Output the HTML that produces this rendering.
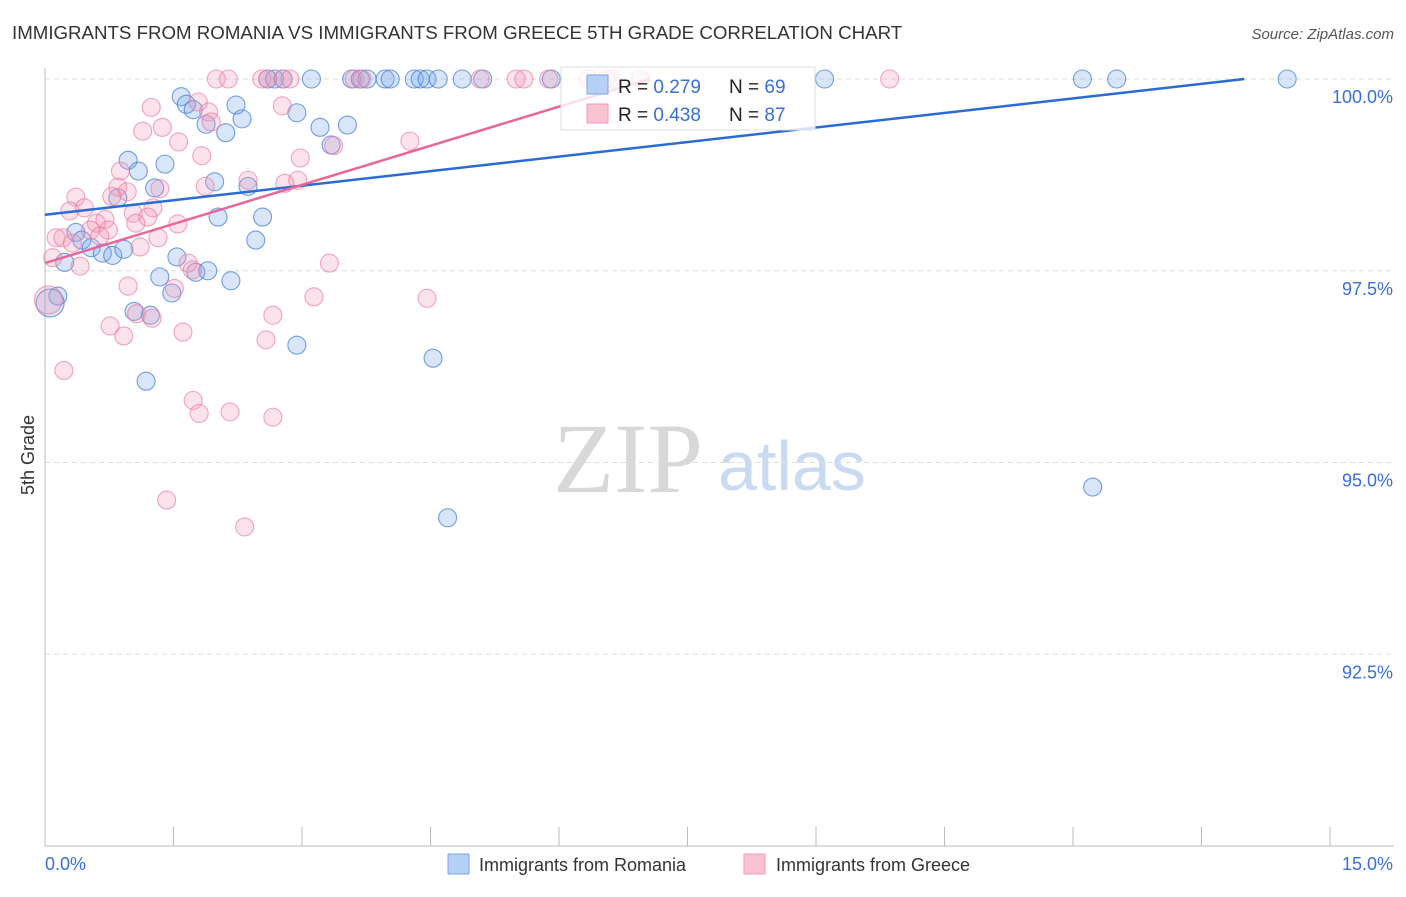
<!DOCTYPE html>
<html><head><meta charset="utf-8"><style>
body{margin:0;background:#fff;font-family:"Liberation Sans",sans-serif}
</style></head><body>
<svg id="chart" width="1406" height="892" xmlns="http://www.w3.org/2000/svg" font-family="Liberation Sans, sans-serif">
<text x="12" y="39" font-size="18.7" fill="#333">IMMIGRANTS FROM ROMANIA VS IMMIGRANTS FROM GREECE 5TH GRADE CORRELATION CHART</text>
<text x="1394" y="39" font-size="15" fill="#555" text-anchor="end" font-style="italic">Source: ZipAtlas.com</text>
<text x="34" y="455" font-size="18" fill="#333" text-anchor="middle" transform="rotate(-90 34 455)">5th Grade</text>
<g>
<text x="553" y="492" font-size="100" fill="#d8d8d8" style="font-family:'Liberation Serif',serif">ZIP</text>
<text x="718" y="490" font-size="70" fill="#c9dbf2">atlas</text>
</g>
<g id="grid"></g><g id="axes"></g><g id="pts"></g><g id="lines"></g>
<g>
<rect x="561" y="67" width="254" height="63" fill="rgba(255,255,255,0.8)" stroke="#ddd"/>
<rect x="587" y="75" width="21" height="19" fill="#b7d0f5" stroke="#7aa5e6"/>
<rect x="587" y="104" width="21" height="19" fill="#f9c3d3" stroke="#f19ab5"/>
<text x="618" y="93" font-size="19" fill="#222">R = <tspan fill="#3a6fd8">0.279</tspan></text>
<text x="729" y="93" font-size="19" fill="#222">N = <tspan fill="#3a6fd8">69</tspan></text>
<text x="618" y="121" font-size="19" fill="#222">R = <tspan fill="#3a6fd8">0.438</tspan></text>
<text x="729" y="121" font-size="19" fill="#222">N = <tspan fill="#3a6fd8">87</tspan></text>
</g>
<g>
<rect x="448" y="854" width="21" height="20" fill="#b7d0f5" stroke="#7aa5e6"/>
<text x="479" y="871" font-size="18" fill="#333">Immigrants from Romania</text>
<rect x="744" y="854" width="21" height="20" fill="#f9c3d3" stroke="#f19ab5"/>
<text x="776" y="871" font-size="18" fill="#333">Immigrants from Greece</text>
</g>
</svg>
<script>
const xTickLabels=["0.0%","15.0%"];
const yTicks=[100,97.5,95,92.5];
const yTickLabels=["100.0%","97.5%","95.0%","92.5%"];
const romaniaX=[2.60,2.68,2.78,3.11,3.58,3.68,3.76,3.97,4.03,4.31,4.38,4.46,4.59,4.87,5.11,5.91,9.10,12.11,12.51,14.50,1.59,1.65,1.73,1.88,2.23,2.30,2.11,2.94,3.21,3.53,3.34,0.97,1.40,1.09,1.28,1.98,2.37,0.85,2.02,2.54,0.36,0.43,0.54,0.67,0.79,0.92,1.54,2.46,0.23,1.34,1.76,1.90,2.17,1.48,0.15,0.06,1.04,1.23,2.94,4.53,1.18,12.23,4.70];
const romaniaY=[100,100,100,100,100,100,100,100,100,100,100,100,100,100,100,100,100,100,100,100,99.77,99.67,99.60,99.41,99.66,99.48,99.30,99.56,99.37,99.40,99.14,98.94,98.89,98.80,98.58,98.66,98.60,98.45,98.20,98.20,98.00,97.90,97.80,97.73,97.70,97.78,97.68,97.90,97.61,97.42,97.48,97.50,97.37,97.21,97.17,97.08,96.97,96.92,96.53,96.36,96.06,94.68,94.28];
const greeceX=[2.00,2.14,2.53,2.60,2.78,2.86,3.61,3.70,5.08,5.50,5.59,5.88,6.34,6.55,6.62,6.95,9.86,1.79,1.24,1.91,1.94,1.37,1.14,1.56,2.77,4.26,1.83,2.98,3.37,0.88,2.37,0.85,0.96,1.34,1.87,2.80,2.95,0.36,0.78,0.29,0.46,1.03,1.26,1.20,0.70,0.60,0.53,1.06,1.55,0.13,0.21,0.32,0.74,0.64,1.11,1.32,0.09,0.41,1.67,1.72,3.32,0.97,1.51,1.07,1.25,0.76,0.92,1.61,2.66,2.58,3.14,4.46,0.22,1.73,1.80,2.16,2.66,1.42,2.33,0.04];
const greeceY=[100,100,100,100,100,100,100,100,100,100,100,100,100,100,100,100,100,99.70,99.63,99.57,99.44,99.37,99.32,99.18,99.65,99.19,99.00,98.97,99.13,98.80,98.68,98.59,98.53,98.57,98.60,98.64,98.68,98.46,98.47,98.28,98.32,98.25,98.32,98.20,98.17,98.12,98.03,98.12,98.11,97.93,97.93,97.86,98.03,97.95,97.81,97.93,97.67,97.56,97.60,97.51,97.60,97.30,97.27,96.94,96.88,96.78,96.65,96.70,96.92,96.60,97.16,97.14,96.20,95.81,95.64,95.66,95.59,94.51,94.16,97.12];
const romaniaTrend=[0,98.23,14.0,100];
const greeceTrend=[0,97.60,7.06,100];
const NS="http://www.w3.org/2000/svg";
const sx=v=>45+v*(1285/15);
const sy=v=>79+(100-v)*76.7;
function mk(t,a,p){const e=document.createElementNS(NS,t);for(const k in a)e.setAttribute(k,a[k]);p.appendChild(e);return e;}
const grid=document.getElementById('grid'),axes=document.getElementById('axes');
yTicks.forEach((v,i)=>{
 const l=mk('line',{x1:45,x2:1394,y1:sy(v),y2:sy(v),stroke:'#ddd','stroke-dasharray':'5,4'},grid);
 
 
 const t=mk('text',{x:1393,y:sy(v)+24,'font-size':18,fill:'#3a6fd8','text-anchor':'end'},axes);
 t.textContent=yTickLabels[i];
 
 
});
const ax=mk('line',{x1:45,x2:45,y1:68,y2:846,stroke:'#bbb'},axes);


const bx=mk('line',{x1:45,x2:1394,y1:846,y2:846,stroke:'#bbb'},axes);


for(let i=0;i<=10;i++){
 const tk=mk('line',{x1:sx(i*1.5),x2:sx(i*1.5),y1:827,y2:846,stroke:'#bbb'},axes);
 
 
}
const t0=mk('text',{x:45,y:870,'font-size':18,fill:'#3a6fd8'},axes);t0.textContent=xTickLabels[0];


const t1=mk('text',{x:1393,y:870,'font-size':18,fill:'#3a6fd8','text-anchor':'end'},axes);t1.textContent=xTickLabels[1];


const pts=document.getElementById('pts');
function series(X,Y,fill,stroke,name){
 X.forEach((x,i)=>{
  const big=x<0.1&&Y[i]<97.2;
  const c=mk('circle',{cx:sx(x),cy:sy(Y[i]),r:big?14:9,fill:fill,stroke:stroke,'stroke-width':1.1},pts);
  
  
 });
}
series(romaniaX,romaniaY,'rgba(120,165,235,0.28)','rgba(60,120,215,0.7)','romania-point');
series(greeceX,greeceY,'rgba(245,150,180,0.28)','rgba(235,120,155,0.65)','greece-point');
const lines=document.getElementById('lines');
const lr=mk('line',{x1:sx(romaniaTrend[0]),y1:sy(romaniaTrend[1]),x2:sx(romaniaTrend[2]),y2:sy(romaniaTrend[3]),stroke:'#2a6bd6','stroke-width':2.5},lines);


const lg=mk('line',{x1:sx(greeceTrend[0]),y1:sy(greeceTrend[1]),x2:sx(greeceTrend[2]),y2:sy(greeceTrend[3]),stroke:'#e8679a','stroke-width':2.5},lines);


</script>
</body></html>
